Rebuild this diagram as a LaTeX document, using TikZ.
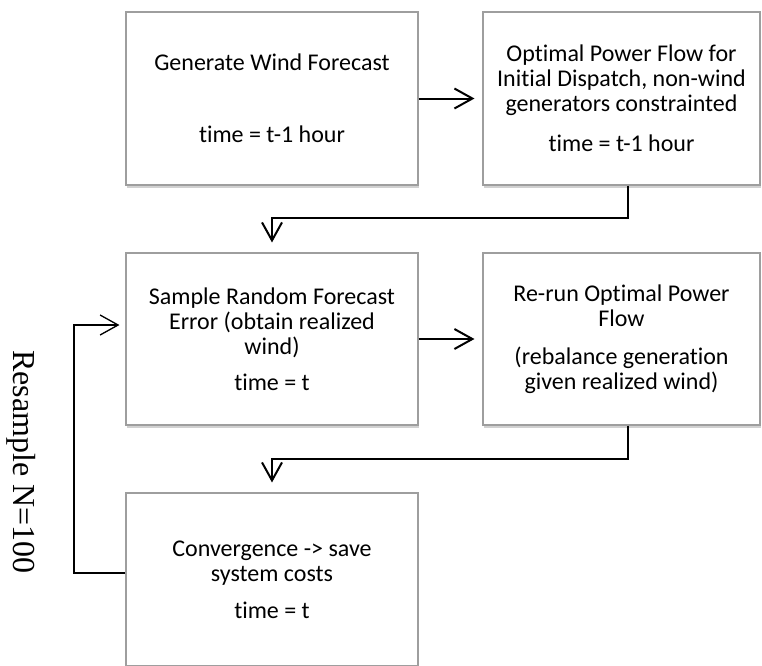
\documentclass[tikz,border=0pt]{standalone}
\usepackage{fontspec}
\setmainfont{Carlito}[Ligatures=NoCommon]
\newfontfamily\timesfont{Liberation Serif}
\usetikzlibrary{arrows.meta,shadows}
\begin{document}
\begin{tikzpicture}[x=0.75pt,y=-0.75pt,
  v/.style={rectangle,draw=black!38,line width=0.8pt,fill=white,minimum width=219pt,minimum height=129.75pt,align=center,
    font=\fontsize{18}{18.75}\selectfont,drop shadow={shadow xshift=1pt,shadow yshift=-2pt,opacity=0.3,fill=black!60}},
  e/.style={line width=1.5pt,-{Straight Barb[length=13.5pt,width=15pt]},shorten >=6pt}]
\clip (0,0) rectangle (762,665);
\node[v] (1) at (272,98.5) {Generate Wind Forecast\\[35pt]time = t-1 hour};
\node[v,minimum width=207.75pt] (2) at (621.5,98.5) {Optimal Power Flow for\\Initial Dispatch, non-wind\\generators constrainted\\[11pt]time = t-1 hour};
\node[v,minimum height=129pt] (3) at (272,339) {Sample Random Forecast\\Error (obtain realized\\wind)\\[8pt]time = t};
\node[v,minimum width=207.75pt,minimum height=129pt] (4) at (621.5,339) {Re-run Optimal Power\\Flow\\[10pt](rebalance generation\\given realized wind)};
\node[v] (5) at (272,579.5) {Convergence -> save\\system costs\\[9pt]time = t};
\node[font=\timesfont\fontsize{24}{28}\selectfont,rotate=-90] (n) at (21,462) {Resample N=100};
\coordinate (a) at (628,218);
\coordinate (b) at (628,459);
\coordinate (c) at (74,573);
\draw[e] (1) -- (2);
\draw[e,shorten >=7.5pt] (2.south -| a) -- (a) -| (3);
\draw[e] (3) -- (4);
\draw[e,shorten >=7.5pt] (4.south -| b) -- (b) -| (5);
\draw[e,line width=1pt,shorten >=4.5pt] (5.west |- c) -- (c) |- ([yshift=10.5pt]3.west);
\end{tikzpicture}
\end{document}
